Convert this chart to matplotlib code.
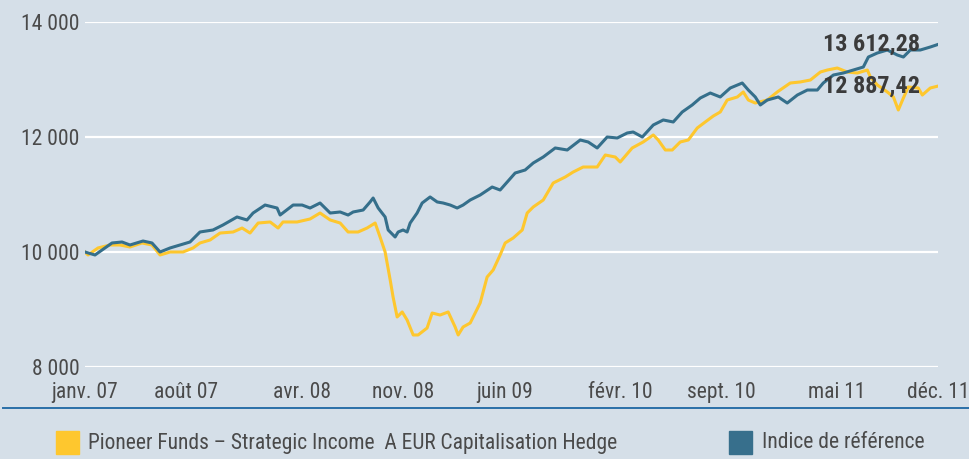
import numpy as np
import pandas as pd
import matplotlib
matplotlib.use('Agg')
import matplotlib.pyplot as plt
from matplotlib.lines import Line2D
from matplotlib.ticker import FuncFormatter

plt.rcParams['font.family'] = ['Roboto Condensed', 'DejaVu Sans']

# months since janv. 2007
mois_indice = [0, 0.69, 1.87, 2.56, 3.11, 4.01, 4.63, 5.19, 5.88, 6.57, 7.26, 7.95, 8.85, 9.54,
               10.51, 11.20, 11.62, 12.45, 13.28, 13.49, 14.39, 15.01, 15.56, 16.25, 16.95,
               17.64, 18.19, 18.54, 19.23, 19.71, 19.92, 20.27, 20.75, 20.96, 21.44, 21.65,
               21.99, 22.27, 22.48, 22.96, 23.31, 23.86, 24.35, 24.76, 25.25, 25.73, 26.14,
               26.63, 27.32, 28.15, 28.70, 29.19, 29.74, 30.43, 30.99, 31.68, 32.51, 33.34,
               34.24, 34.79, 35.41, 36.10, 36.80, 37.49, 37.90, 38.53, 39.29, 39.98, 40.67,
               41.29, 41.98, 42.54, 43.23, 43.92, 44.61, 45.44, 45.86, 46.34, 46.69, 47.17,
               47.93, 48.55, 49.25, 49.94, 50.63, 51.04, 51.74, 52.43, 53.12, 53.81, 54.16,
               54.78, 55.47, 56.16, 56.58, 57.06, 57.75, 58.44, 59.0]
indice = [10000, 9948, 10157, 10174, 10122, 10191, 10157, 10000, 10070, 10122, 10174, 10348,
          10383, 10470, 10609, 10557, 10678, 10817, 10765, 10643, 10817, 10817, 10765, 10852,
          10678, 10696, 10643, 10696, 10730, 10870, 10939, 10765, 10609, 10383, 10261, 10348,
          10383, 10348, 10504, 10678, 10852, 10957, 10870, 10852, 10817, 10765, 10817, 10904,
          10991, 11130, 11078, 11217, 11374, 11426, 11548, 11652, 11809, 11774, 11948, 11913,
          11809, 12000, 11983, 12070, 12087, 12000, 12209, 12296, 12261, 12435, 12557, 12678,
          12765, 12696, 12852, 12939, 12817, 12696, 12557, 12643, 12696, 12591, 12730, 12817,
          12817, 12939, 13078, 13113, 13165, 13217, 13391, 13461, 13513, 13426, 13391, 13513,
          13513, 13565, 13612.28]

mois_fonds = [0, 0.21, 0.90, 1.73, 2.42, 3.11, 3.94, 4.63, 5.19, 5.88, 6.78, 7.47, 7.95, 8.65,
              9.34, 10.24, 10.86, 11.41, 11.97, 12.80, 13.35, 13.69, 14.66, 15.56, 16.25,
              16.95, 17.64, 18.19, 18.88, 19.50, 20.06, 20.40, 20.75, 21.10, 21.30, 21.58,
              21.93, 22.27, 22.69, 23.03, 23.65, 24.00, 24.55, 25.11, 25.59, 25.80, 26.14,
              26.63, 27.32, 27.80, 28.22, 28.70, 29.05, 29.60, 30.23, 30.57, 30.99, 31.68,
              32.37, 33.20, 33.75, 34.44, 35.41, 35.97, 36.66, 37.00, 37.83, 38.59, 39.29,
              39.63, 40.12, 40.60, 41.15, 41.71, 42.33, 42.88, 43.44, 43.92, 44.40, 45.10,
              45.51, 45.86, 46.34, 47.17, 47.86, 48.76, 49.45, 50.15, 50.84, 51.32, 52.01,
              52.70, 53.40, 54.09, 54.30, 54.78, 55.47, 55.89, 56.23, 56.58, 56.92, 57.61,
              57.89, 58.44, 59.0]
fonds = [10000, 9948, 10070, 10122, 10122, 10087, 10157, 10122, 9948, 10000, 10000, 10070,
         10157, 10209, 10330, 10348, 10417, 10330, 10504, 10522, 10417, 10522, 10522, 10574,
         10678, 10557, 10504, 10348, 10348, 10417, 10504, 10261, 10000, 9513, 9217, 8870,
         8957, 8817, 8557, 8557, 8678, 8939, 8904, 8957, 8696, 8557, 8696, 8765, 9113, 9565,
         9687, 9948, 10157, 10243, 10383, 10678, 10783, 10904, 11200, 11304, 11391, 11478,
         11478, 11687, 11652, 11565, 11809, 11913, 12035, 11948, 11774, 11774, 11913, 11948,
         12157, 12261, 12365, 12435, 12643, 12696, 12783, 12643, 12591, 12643, 12783, 12939,
         12957, 12991, 13130, 13165, 13200, 13130, 13113, 13165, 13043, 12904, 12783, 12696,
         12470, 12678, 12870, 12852, 12730, 12852, 12887.42]

tick_dates = ['2007-01-01', '2007-08-01', '2008-04-01', '2008-11-01', '2009-06-01',
              '2010-02-01', '2010-09-01', '2011-05-01', '2011-12-01']
tick_labels = ['janv. 07', 'août 07', 'avr. 08', 'nov. 08', 'juin 09',
               'févr. 10', 'sept. 10', 'mai 11', 'déc. 11']

nom_fonds = 'Pioneer Funds – Strategic Income  A EUR Capitalisation Hedge'
nom_indice = 'Indice de référence'

bg = '#d5dfe8'
jaune = '#fec72e'
bleu = '#356f8b'
texte = '#4a4a4a'

debut = pd.Timestamp('2007-01-01')
def to_dates(m):
    return debut + pd.to_timedelta(np.array(m) * 30.4375, unit='D')

x_ind = to_dates(mois_indice)
x_fds = to_dates(mois_fonds)

fig = plt.figure(figsize=(9.69, 4.59), dpi=100, facecolor=bg)
ax = fig.add_axes([85/969, 1 - 367/459, 853/969, 345/459])
ax.set_facecolor(bg)

ax.plot(x_fds, fonds, color=jaune, lw=2.2, zorder=3)
ax.plot(x_ind, indice, color=bleu, lw=2.2, zorder=4)

ax.set_ylim(8000, 14000)
ax.set_xlim(debut, pd.Timestamp('2011-12-01'))
ax.set_yticks([8000, 10000, 12000, 14000])
ax.yaxis.set_major_formatter(FuncFormatter(lambda v, p: f'{int(v):,}'.replace(',', ' ')))
ax.set_xticks(pd.to_datetime(tick_dates))
ax.set_xticklabels(tick_labels)
ax.grid(axis='y', color='white', lw=1.6, zorder=1)
ax.tick_params(length=0, labelsize=15.5, labelcolor=texte)
ax.tick_params(axis='x', pad=11)
ax.tick_params(axis='y', pad=4)
for s in ax.spines.values():
    s.set_visible(False)

# end values
ax.annotate('13 612,28', xy=(x_ind[-1], indice[-1]), xytext=(-13, 0),
            textcoords='offset points', ha='right', va='center',
            fontsize=17.5, fontweight='bold', color='#3b3b3b', zorder=5)
ax.annotate('12 887,42', xy=(x_fds[-1], fonds[-1]), xytext=(-13, 0),
            textcoords='offset points', ha='right', va='center',
            fontsize=17.5, fontweight='bold', color='#3b3b3b', zorder=5)

# separator line
fig.add_artist(Line2D([3/969, 1], [1 - 408/459] * 2, color='#2a6fa8', lw=1.4))

# legend
fig.patches.append(plt.Rectangle((56/969, 1 - 454/459), 23/969, 23/459,
                                 transform=fig.transFigure, color=jaune))
fig.text(88/969, 1 - 443/459, nom_fonds, fontsize=15.5, color=texte, va='center')
fig.patches.append(plt.Rectangle((729/969, 1 - 454/459), 23/969, 23/459,
                                 transform=fig.transFigure, color='#376f8c'))
fig.text(762/969, 1 - 443/459, nom_indice, fontsize=15.5, color=texte, va='center')

fig.savefig('out.png', dpi=100, facecolor=bg)
